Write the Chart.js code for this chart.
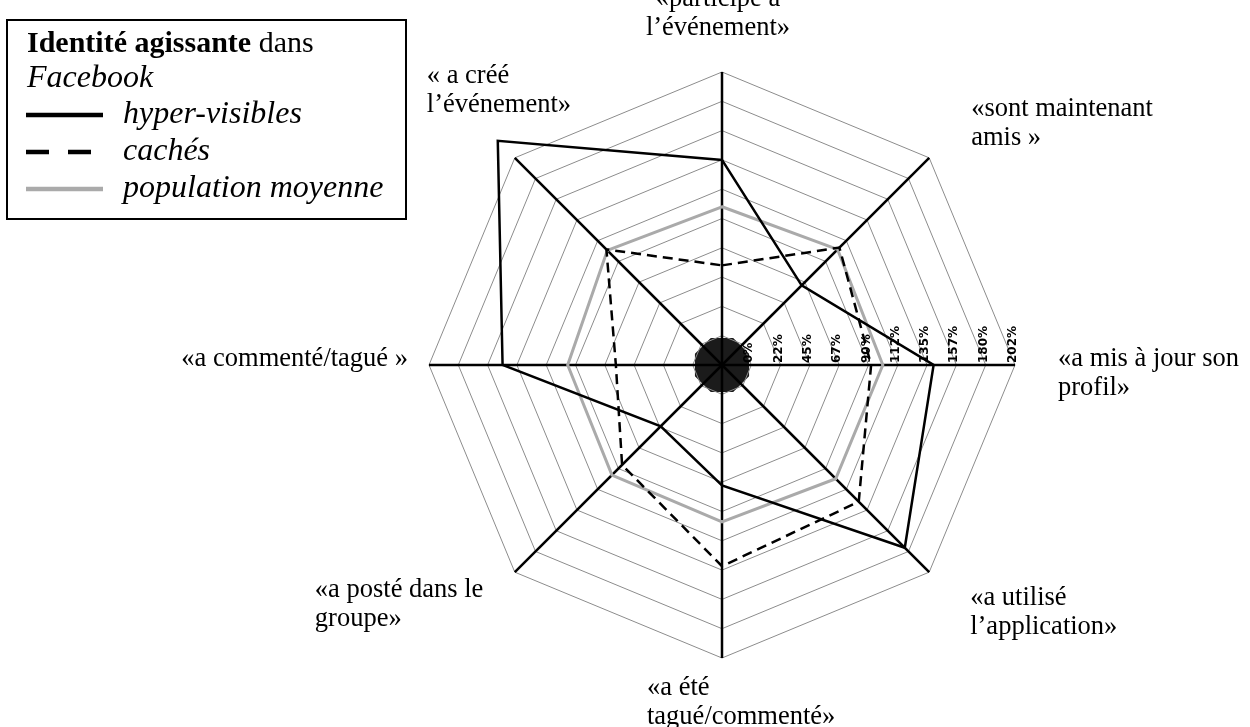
<!DOCTYPE html>
<html lang="fr">
<head>
<meta charset="utf-8">
<title>Identité agissante dans Facebook</title>
<script src="https://cdn.jsdelivr.net/npm/chart.js@4.4.0/dist/chart.umd.min.js"></script>
<style>
  html, body { margin: 0; padding: 0; background: #fff; }
  #wrap { position: relative; width: 1250px; height: 727px; }
</style>
</head>
<body>
<div id="wrap"><canvas id="radarChart"></canvas></div>
<script>
// axes, clockwise starting from the top
const categories = [
    ['«participe à', 'l’événement»'],
    ['«sont maintenant', 'amis »'],
    ['«a mis à jour son', 'profil»'],
    ['«a utilisé', 'l’application»'],
    ['«a été', 'tagué/commenté»'],
    ['«a posté dans le', 'groupe»'],
    ['«a commenté/tagué »'],
    ['« a créé', 'l’événement»']
];

// values in %
const hyperVisibles = [135, 64, 140, 176, 70, 44, 146, 221];
const caches = [54, 105, 92, 126, 132, 86, 59, 103];
const populationMoyenne = [99, 103, 101, 101, 98, 97, 96, 102];

// the scale starts one step below 0, the black centre is that first step
const tickLabels = ['0%', '22%', '45%', '67%', '90%', '112%', '135%', '157%', '180%', '202%'];
const scaleMin = -22.5;
const scaleMax = 202.5;
const scaleStep = 22.5;

const serif = '"Liberation Serif", "Times New Roman", serif';

// black octagon in the middle (between the centre and the 0% ring)
const centreDisc = {
    id: 'centreDisc',
    beforeDraw(chart) {
        const r = chart.scales.r;
        const rad = r.getDistanceFromCenterForValue(0);
        const ctx = chart.ctx;
        ctx.save();
        ctx.beginPath();
        for (let k = 0; k < 8; k++) {
            const a = (k + 0.5) * Math.PI / 4;
            const x = r.xCenter + rad * Math.cos(a);
            const y = r.yCenter + rad * Math.sin(a);
            if (k === 0) ctx.moveTo(x, y); else ctx.lineTo(x, y);
        }
        ctx.closePath();
        ctx.fillStyle = '#1b1b1b';
        ctx.fill();
        ctx.restore();
    }
};

// tick labels, turned a quarter, along the right hand axis
const tickText = {
    id: 'tickText',
    beforeDatasetsDraw(chart) {
        const r = chart.scales.r;
        const ctx = chart.ctx;
        ctx.save();
        ctx.font = 'bold 12px "DejaVu Sans", sans-serif';
        ctx.fillStyle = '#000';
        ctx.textAlign = 'left';
        ctx.textBaseline = 'alphabetic';
        r.ticks.forEach(function(tick, i) {
            if (i === 0) return;
            const x = r.xCenter + r.getDistanceFromCenterForValue(tick.value) + 1;
            ctx.save();
            ctx.translate(x, r.yCenter - 2);
            ctx.rotate(-Math.PI / 2);
            ctx.fillText(tickLabels[i - 1], 0, 0);
            ctx.restore();
        });
        ctx.restore();
    }
};

// where each axis title sits, relative to the end of its axis
const labelPlacement = [
    { dx: -4, dy: -66, align: 'center' },
    { dx: 42, dy: -42, align: 'left' },
    { dx: 43, dy: 1, align: 'left' },
    { dx: 41, dy: 33, align: 'left' },
    { dx: -75, dy: 37, align: 'left' },
    { dx: -200, dy: 25, align: 'left' },
    { dx: -21, dy: 1, align: 'right' },
    { dx: -88, dy: -75, align: 'left' }
];

const axisLabels = {
    id: 'axisLabels',
    afterDraw(chart) {
        const r = chart.scales.r;
        const ctx = chart.ctx;
        ctx.save();
        ctx.font = '26.5px ' + serif;
        ctx.fillStyle = '#000';
        ctx.textBaseline = 'alphabetic';
        chart.data.labels.forEach(function(lines, i) {
            const p = r.getPointPosition(i, r.drawingArea);
            const place = labelPlacement[i];
            ctx.textAlign = place.align;
            lines.forEach(function(line, j) {
                ctx.fillText(line, p.x + place.dx, p.y + place.dy + j * 29);
            });
        });
        ctx.restore();
    }
};

// legend box in the top left corner
const legendBox = {
    id: 'legendBox',
    afterDraw(chart) {
        const ctx = chart.ctx;
        const sets = chart.data.datasets;
        ctx.save();
        ctx.strokeStyle = '#000';
        ctx.lineWidth = 2;
        ctx.strokeRect(7, 20, 399, 199);

        ctx.fillStyle = '#000';
        ctx.textAlign = 'left';
        ctx.textBaseline = 'alphabetic';
        ctx.font = 'bold 30px ' + serif;
        const title = 'Identité agissante';
        ctx.fillText(title, 27, 52);
        const w = ctx.measureText(title).width;
        ctx.font = '30px ' + serif;
        ctx.fillText(' dans', 27 + w, 52);
        ctx.font = 'italic 32px ' + serif;
        ctx.fillText('Facebook', 27, 87);

        const rows = [123, 160, 197];
        sets.forEach(function(ds, i) {
            const y = rows[i] - 8;
            ctx.beginPath();
            ctx.setLineDash(ds.borderDash ? [23, 19] : []);
            ctx.strokeStyle = ds.borderColor;
            ctx.lineWidth = 4.5;
            ctx.moveTo(26, y);
            ctx.lineTo(103, y);
            ctx.stroke();
            ctx.setLineDash([]);
            ctx.fillText(ds.label, 123, rows[i]);
        });
        ctx.restore();
    }
};

const ctx = document.getElementById('radarChart').getContext('2d');
const radarChart = new Chart(ctx, {
    type: 'radar',
    data: {
        labels: categories,
        datasets: [{
            label: 'hyper-visibles',
            data: hyperVisibles,
            borderColor: '#000000',
            borderWidth: 2.5,
            fill: false,
            pointRadius: 0
        }, {
            label: 'cachés',
            data: caches,
            borderColor: '#000000',
            borderWidth: 2.5,
            borderDash: [10, 6],
            fill: false,
            pointRadius: 0
        }, {
            label: 'population moyenne',
            data: populationMoyenne,
            borderColor: '#aaaaaa',
            borderWidth: 3,
            fill: false,
            pointRadius: 0
        }]
    },
    options: {
        responsive: true,
        maintainAspectRatio: false,
        animation: false,
        layout: {
            padding: { top: 72, bottom: 69, left: 429, right: 235 }
        },
        elements: {
            line: { tension: 0, borderJoinStyle: 'miter' }
        },
        plugins: {
            legend: { display: false },
            tooltip: { enabled: false }
        },
        scales: {
            r: {
                min: scaleMin,
                max: scaleMax,
                ticks: { stepSize: scaleStep, display: false },
                grid: { color: '#8c8c8c', lineWidth: 1 },
                angleLines: { color: '#000000', lineWidth: 2.5 },
                pointLabels: { display: false }
            }
        }
    },
    plugins: [centreDisc, tickText, axisLabels, legendBox]
});
</script>
</body>
</html>
